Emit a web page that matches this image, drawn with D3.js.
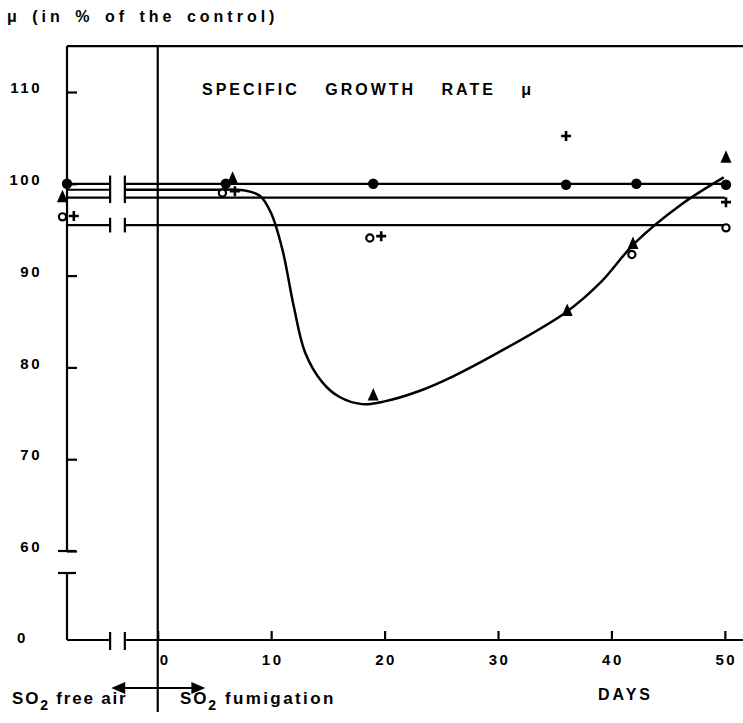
<!DOCTYPE html>
<html>
<head>
<meta charset="utf-8">
<script src="https://cdn.jsdelivr.net/npm/d3@7"></script>
<style>
  body { margin: 0; background: #fff; }
  svg { display: block; font-family: 'Liberation Sans', Arial, sans-serif; font-weight: bold; }
</style>
</head>
<body>
<svg id="chart" width="743" height="723"></svg>
<script>
'use strict';

// tick labels
const yTicks = [110, 100, 90, 80, 70, 60];
const xTicks = [0, 10, 20, 30, 40, 50];

// control values (SO2 free air) sit on the left axis, then the axis break
const controlDay = -8;
const breakDays = [-4.2, -2.9];
const lastDay = 50;
const arrowDays = [-4.1, 4.2];

// mean levels of the flat series (% of control)
const circleLevel = 100;
const plusLevel = 98.5;
const openLevel = 95.5;
const triangleLevel = 99.35;

// measured points
const circleDays = [-8, 6, 19, 36, 42.2, 50.1];
const circleVals = [100, 100, 100, 99.9, 100, 99.9];
const triangleDays = [-8.4, 6.6, 19, 36.1, 41.9, 50.1];
const triangleVals = [98.6, 100.6, 77, 86.2, 93.5, 102.9];
const openDays = [-8.4, 5.7, 18.7, 41.8, 50.1];
const openVals = [96.4, 99.0, 94.1, 92.3, 95.2];
const plusDays = [-7.4, 6.8, 19.7, 36, 50.1];
const plusVals = [96.5, 99.2, 94.3, 105.2, 98.0];

// hand drawn curve through the triangles
const curveDays = [-2.9, 5, 7.5, 9.0, 10.0, 11.0, 12.0, 13.0, 14.5, 16.0, 18.0, 20.0, 23.0, 26.0, 30.0, 36.1, 39.0, 42.1, 46.1, 49.9];
const curveVals = [99.35, 99.35, 99.3, 98.7, 96.8, 92.8, 86.6, 81.6, 78.4, 76.8, 76.0, 76.3, 77.4, 79.0, 81.6, 86.1, 89.2, 93.6, 97.7, 100.7];

const svg = d3.select('#chart');
const width = 743;

const x = d3.scaleLinear().domain([-8, 51.6]).range([67, width]);
// broken axis: 0 is put just under the 60 tick
const y = d3.scaleLinear().domain([0, 60, 110]).range([640, 551, 92]);
const yMax = 115;

const line = d3.line().x(d => x(d[0])).y(d => y(d[1]));

function segment(d0, d1, v0, v1, w) {
    svg.append('path')
        .attr('d', line([[d0, v0], [d1, v1]]))
        .attr('fill', 'none')
        .attr('stroke', '#000')
        .attr('stroke-width', w || 2.2);
}

// frame
segment(controlDay, 51.6, yMax, yMax);
segment(controlDay, controlDay, yMax, 60);
svg.append('line')
    .attr('x1', x(controlDay) - 9).attr('x2', x(controlDay) + 9)
    .attr('y1', y(60)).attr('y2', y(60))
    .attr('stroke', '#000').attr('stroke-width', 2.2);
const capY = y(60) + 22;
svg.append('line')
    .attr('x1', x(controlDay) - 9).attr('x2', x(controlDay) + 9)
    .attr('y1', capY).attr('y2', capY)
    .attr('stroke', '#000').attr('stroke-width', 2.2);
svg.append('line')
    .attr('x1', x(controlDay)).attr('x2', x(controlDay))
    .attr('y1', capY).attr('y2', y(0))
    .attr('stroke', '#000').attr('stroke-width', 2.2);
segment(controlDay, breakDays[0], 0, 0);
segment(breakDays[1], 51.6, 0, 0);
breakDays.forEach(b => {
    svg.append('line')
        .attr('x1', x(b)).attr('x2', x(b))
        .attr('y1', y(0) - 8).attr('y2', y(0) + 10)
        .attr('stroke', '#000').attr('stroke-width', 2.2);
});

// start of fumigation
svg.append('line')
    .attr('x1', x(0)).attr('x2', x(0))
    .attr('y1', y(yMax)).attr('y2', 712)
    .attr('stroke', '#000').attr('stroke-width', 2.2);

const tickFont = "'Liberation Sans', Arial, sans-serif";

// y axis
const yAxis = svg.append('g')
    .attr('transform', `translate(${x(controlDay)},0)`)
    .call(d3.axisLeft(y).tickValues(yTicks).tickSize(-10).tickPadding(25));
yAxis.select('.domain').remove();
yAxis.selectAll('line').attr('stroke-width', 2.2);
yAxis.selectAll('text')
    .attr('dy', '0.05em')
    .style('font-size', '15px')
    .style('letter-spacing', '2.5px')
    .style('font-family', tickFont);
svg.append('text')
    .attr('x', 17).attr('y', y(0) + 3)
    .style('font-size', '15px')
    .text('0');

// x axis
const xAxis = svg.append('g')
    .attr('transform', `translate(0,${y(0)})`)
    .call(d3.axisBottom(x).tickValues(xTicks).tickSize(-9).tickPadding(14));
xAxis.select('.domain').remove();
xAxis.selectAll('line').attr('stroke-width', 2.2);
xAxis.selectAll('text')
    .style('font-size', '15px')
    .style('letter-spacing', '2.5px')
    .style('font-family', tickFont)
    .attr('dx', d => d === 0 ? 7 : 1);

// flat series lines with break
[circleLevel, triangleLevel, plusLevel, openLevel].forEach(v => {
    segment(controlDay, breakDays[0], v, v);
});
[circleLevel, plusLevel, openLevel].forEach(v => {
    segment(breakDays[1], lastDay, v, v);
});
breakDays.forEach(b => {
    segment(b, b, 100.9, 97.9);
    segment(b, b, 96.3, 94.7);
});

// triangle curve
svg.append('path')
    .datum(curveDays.map((d, i) => [d, curveVals[i]]))
    .attr('d', d3.line().x(d => x(d[0])).y(d => y(d[1])).curve(d3.curveCatmullRom.alpha(0.5)))
    .attr('fill', 'none')
    .attr('stroke', '#000')
    .attr('stroke-width', 2.5);

// markers
svg.append('g').selectAll('circle')
    .data(circleDays.map((d, i) => [d, circleVals[i]]))
    .join('circle')
    .attr('cx', d => x(d[0])).attr('cy', d => y(d[1]))
    .attr('r', 5.2).attr('fill', '#000');

svg.append('g').selectAll('path')
    .data(triangleDays.map((d, i) => [d, triangleVals[i]]))
    .join('path')
    .attr('transform', d => `translate(${x(d[0])},${y(d[1])})`)
    .attr('d', 'M0,-7 L5.5,5.5 L-5.5,5.5 Z')
    .attr('fill', '#000');

svg.append('g').selectAll('circle')
    .data(openDays.map((d, i) => [d, openVals[i]]))
    .join('circle')
    .attr('cx', d => x(d[0])).attr('cy', d => y(d[1]))
    .attr('r', 3.6).attr('fill', '#fff')
    .attr('stroke', '#000').attr('stroke-width', 2.2);

svg.append('g').selectAll('path')
    .data(plusDays.map((d, i) => [d, plusVals[i]]))
    .join('path')
    .attr('transform', d => `translate(${x(d[0])},${y(d[1])})`)
    .attr('d', 'M-5,0 H5 M0,-5 V5')
    .attr('stroke', '#000').attr('stroke-width', 2.6);

// arrow
const arrowY = 688;
svg.append('line')
    .attr('x1', x(arrowDays[0]) + 8).attr('x2', x(arrowDays[1]) - 8)
    .attr('y1', arrowY).attr('y2', arrowY)
    .attr('stroke', '#000').attr('stroke-width', 2.2);
svg.append('path')
    .attr('d', `M${x(arrowDays[0])},${arrowY} l14,-6 v12 Z M${x(arrowDays[1])},${arrowY} l-14,-6 v12 Z`)
    .attr('fill', '#000');

// texts
svg.append('text')
    .attr('x', 7).attr('y', 22)
    .style('font-size', '16px')
    .style('letter-spacing', '4px')
    .style('word-spacing', '3px')
    .text('μ (in % of the control)');

svg.append('text')
    .attr('x', 202).attr('y', 95)
    .style('font-size', '16px')
    .style('letter-spacing', '3px')
    .style('word-spacing', '18px')
    .text('SPECIFIC GROWTH RATE μ');

const so2free = svg.append('text')
    .attr('x', 12).attr('y', 704)
    .style('font-size', '17px')
    .style('letter-spacing', '1.8px');
so2free.append('tspan').text('SO');
so2free.append('tspan').attr('dy', 6).style('font-size', '14px').text('2');
so2free.append('tspan').attr('dy', -6).text(' free air');

const so2fum = svg.append('text')
    .attr('x', 180).attr('y', 704)
    .style('font-size', '17px')
    .style('letter-spacing', '1.8px');
so2fum.append('tspan').text('SO');
so2fum.append('tspan').attr('dy', 6).style('font-size', '14px').text('2');
so2fum.append('tspan').attr('dy', -6).style('letter-spacing', '2.4px').text('  fumigation');

svg.append('text')
    .attr('x', 598).attr('y', 700)
    .style('font-size', '16px')
    .style('letter-spacing', '3px')
    .text('DAYS');
</script>
</body>
</html>
